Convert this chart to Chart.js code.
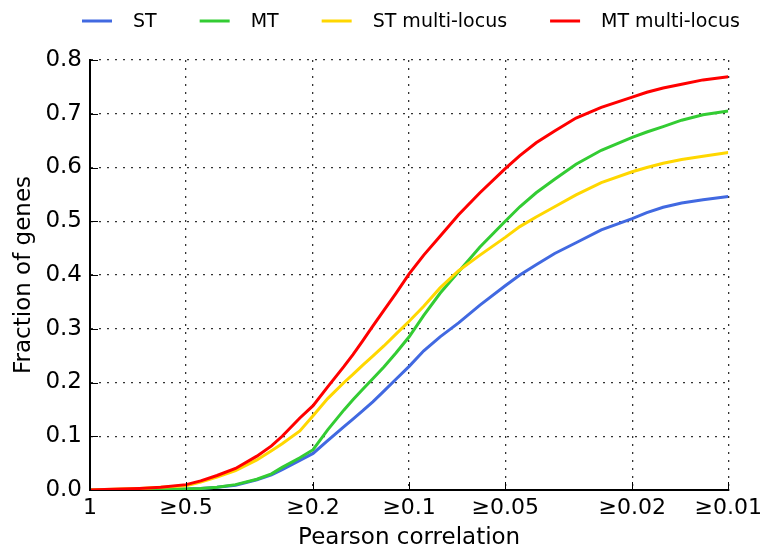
<!DOCTYPE html>
<html>
<head>
<meta charset="utf-8">
<script src="https://cdn.jsdelivr.net/npm/chart.js@4/dist/chart.umd.min.js"></script>
<style>
  html, body { margin: 0; padding: 0; background: #fff; }
  #wrap { width: 767px; height: 552px; position: relative; }
</style>
</head>
<body>
<div id="wrap"><canvas id="c" width="767" height="552"></canvas></div>
<script>
// Pearson correlation thresholds (x) — fraction of genes with correlation >= threshold
const thresholds = [1, 0.9, 0.8, 0.7, 0.6, 0.5, 0.45, 0.4, 0.35, 0.3, 0.27, 0.25, 0.22, 0.2, 0.18, 0.16, 0.15, 0.14, 0.13, 0.12, 0.11, 0.1, 0.09, 0.08, 0.07, 0.06, 0.05, 0.045, 0.04, 0.035, 0.03, 0.025, 0.02, 0.018, 0.016, 0.014, 0.012, 0.01];

const seriesNames = ["ST", "MT", "ST multi-locus", "MT multi-locus"];

const stValues = [0, 0, 0, 0.001, 0.001, 0.002, 0.003, 0.005, 0.009, 0.019, 0.028, 0.038, 0.055, 0.068, 0.092, 0.118, 0.132, 0.147, 0.164, 0.184, 0.206, 0.230, 0.259, 0.285, 0.311, 0.344, 0.380, 0.400, 0.419, 0.440, 0.460, 0.484, 0.505, 0.516, 0.526, 0.534, 0.540, 0.546];

const mtValues = [0, 0, 0, 0.001, 0.001, 0.002, 0.003, 0.005, 0.010, 0.020, 0.030, 0.042, 0.060, 0.075, 0.112, 0.149, 0.168, 0.187, 0.207, 0.229, 0.255, 0.285, 0.325, 0.366, 0.406, 0.452, 0.500, 0.527, 0.553, 0.578, 0.606, 0.632, 0.656, 0.666, 0.676, 0.688, 0.698, 0.705];

const stMultiValues = [0, 0.001, 0.002, 0.003, 0.005, 0.008, 0.015, 0.024, 0.036, 0.056, 0.073, 0.086, 0.110, 0.138, 0.170, 0.200, 0.215, 0.232, 0.249, 0.268, 0.290, 0.314, 0.342, 0.376, 0.408, 0.437, 0.470, 0.490, 0.508, 0.527, 0.549, 0.572, 0.592, 0.600, 0.608, 0.615, 0.621, 0.628];

const mtMultiValues = [0, 0.001, 0.002, 0.003, 0.005, 0.010, 0.017, 0.027, 0.040, 0.063, 0.082, 0.100, 0.134, 0.157, 0.192, 0.230, 0.252, 0.277, 0.305, 0.334, 0.366, 0.402, 0.437, 0.472, 0.512, 0.553, 0.598, 0.622, 0.646, 0.668, 0.692, 0.712, 0.731, 0.740, 0.748, 0.755, 0.763, 0.769];

const xTickValues = [1, 0.5, 0.2, 0.1, 0.05, 0.02, 0.01];
const yTickStep = 0.1;
const xAxisTitle = "Pearson correlation";
const yAxisTitle = "Fraction of genes";

const colors = ["#4169E1", "#33CC33", "#FFD700", "#FF0000"];
const allSeries = [stValues, mtValues, stMultiValues, mtMultiValues];

const FONT = "'DejaVu Sans', 'Liberation Sans', sans-serif";

const datasets = allSeries.map((vals, i) => ({
  label: seriesNames[i],
  data: thresholds.map((t, j) => ({ x: t, y: vals[j] })),
  borderColor: colors[i],
  backgroundColor: colors[i],
  borderWidth: 3,
  pointRadius: 0,
  tension: 0,
  fill: false,
  order: allSeries.length - i
}));

const innerTicks = {
  id: 'innerTicks',
  afterDatasetsDraw(chart) {
    const { ctx, chartArea, scales } = chart;
    ctx.save();
    ctx.strokeStyle = '#000';
    ctx.lineWidth = 1;
    xTickValues.forEach(v => {
      const px = Math.round(scales.x.getPixelForValue(v)) + 0.5;
      ctx.beginPath();
      ctx.moveTo(px, chartArea.bottom);
      ctx.lineTo(px, chartArea.bottom - 8);
      ctx.stroke();
    });
    for (let v = 0; v <= 0.8001; v += yTickStep) {
      const py = Math.round(scales.y.getPixelForValue(v)) + 0.5;
      ctx.beginPath();
      ctx.moveTo(chartArea.left, py);
      ctx.lineTo(chartArea.left + 8, py);
      ctx.stroke();
    }
    ctx.restore();
  }
};

const topLegend = {
  id: 'topLegend',
  afterDraw(chart) {
    const { ctx } = chart;
    ctx.save();
    ctx.font = "19px " + FONT;
    ctx.textBaseline = 'middle';
    ctx.textAlign = 'left';
    let x = 82;
    const y = 21;
    chart.data.datasets.forEach(ds => {
      ctx.strokeStyle = ds.borderColor;
      ctx.lineWidth = 3;
      ctx.beginPath();
      ctx.moveTo(x, y);
      ctx.lineTo(x + 30, y);
      ctx.stroke();
      ctx.fillStyle = '#000';
      ctx.fillText(ds.label, x + 51, y + 1);
      x += 51 + ctx.measureText(ds.label).width + 43;
    });
    ctx.restore();
  }
};

new Chart(document.getElementById('c'), {
  type: 'line',
  data: { datasets },
  plugins: [innerTicks, topLegend],
  options: {
    responsive: false,
    animation: false,
    devicePixelRatio: 1,
    layout: { padding: { left: 0, right: 36, top: 60, bottom: 0 } },
    plugins: { legend: { display: false }, tooltip: { enabled: false } },
    scales: {
      x: {
        type: 'logarithmic',
        reverse: true,
        min: 0.01,
        max: 1,
        afterBuildTicks(scale) { scale.ticks = xTickValues.map(v => ({ value: v })); },
        afterFit(scale) { scale.height = 62; },
        ticks: {
          autoSkip: false,
          maxRotation: 0,
          padding: 5,
          color: '#000',
          font: { family: FONT, size: 22 },
          callback: (v) => (v === 1 ? '1' : '\u2265' + v)
        },
        grid: { color: 'rgba(0,0,0,0.8)', lineWidth: 1.3, drawTicks: false },
        border: { display: true, color: '#000', width: 2, dash: [2, 6] },
        title: {
          display: true, text: xAxisTitle, color: '#000',
          font: { family: FONT, size: 23 }, padding: { top: 0, bottom: 0 }
        }
      },
      y: {
        min: 0,
        max: 0.8,
        afterFit(scale) { scale.width = 90; },
        ticks: {
          stepSize: yTickStep,
          padding: 8,
          color: '#000',
          font: { family: FONT, size: 23 },
          callback: (v) => Number(v).toFixed(1)
        },
        grid: { color: 'rgba(0,0,0,0.8)', lineWidth: 1.3, drawTicks: false },
        border: { display: true, color: '#000', width: 2, dash: [2, 6] },
        title: {
          display: true, text: yAxisTitle, color: '#000',
          font: { family: FONT, size: 23 }, padding: { top: 10, bottom: 0 }
        }
      }
    }
  }
});
</script>
</body>
</html>
